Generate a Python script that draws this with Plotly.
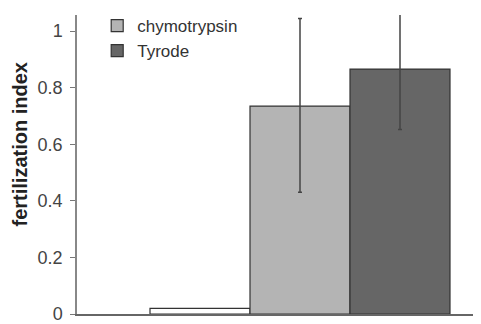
import plotly.graph_objects as go

categories = ["control", "chymotrypsin", "Tyrode"]
values = [0.02, 0.735, 0.866]
err_plus = [0.0, 0.31, 0.22]
err_minus = [0.0, 0.305, 0.214]
colors = ["#ffffff", "#b4b4b4", "#666666"]
show_legend = [False, True, True]
y_ticks = [0, 0.2, 0.4, 0.6, 0.8, 1]
y_ticktext = ["0", "0.2", "0.4", "0.6", "0.8", "1"]

fig = go.Figure()
for i, (name, v, ep, em, c, sl) in enumerate(zip(categories, values, err_plus, err_minus, colors, show_legend)):
    fig.add_trace(go.Bar(
        x=[i], y=[v], name=name, width=1.0,
        marker=dict(color=c, line=dict(color="#333333", width=1.2)),
        error_y=dict(type="data", array=[ep], arrayminus=[em], visible=ep > 0,
                     color="#444444", thickness=1.5, width=2),
        showlegend=sl,
    ))

fig.add_annotation(
    text="<b>fertilization index</b>", textangle=-90,
    xref="paper", yref="paper", x=-0.141, y=0.567,
    xanchor="center", yanchor="middle", showarrow=False,
    font=dict(size=20, color="#222222"),
)

fig.update_layout(
    width=473, height=316,
    margin=dict(l=69, r=0, t=2, b=7),
    paper_bgcolor="white", plot_bgcolor="white",
    barmode="overlay",
    font=dict(family="Liberation Sans, Arial, sans-serif", size=18, color="#333333"),
    xaxis=dict(range=[-1.23, 2.81], showticklabels=False, ticks="", showgrid=False,
               zeroline=False, showline=True, linecolor="#666666", linewidth=1.5),
    yaxis=dict(range=[0, 1.057], tickvals=y_ticks, ticktext=y_ticktext,
               ticks="outside", ticklen=5, tickcolor="#777777", showgrid=False,
               tickfont=dict(size=18, color="#444444"), ticklabeloverflow="allow",
               ticklabelstandoff=4,
               zeroline=False, showline=True, linecolor="#888888", linewidth=1.5),
    legend=dict(x=0.05, y=1.025, xanchor="left", yanchor="top", bgcolor="rgba(0,0,0,0)",
                font=dict(size=17, color="#333333"), tracegroupgap=0, itemwidth=30),
)

fig.write_html("out.html")
